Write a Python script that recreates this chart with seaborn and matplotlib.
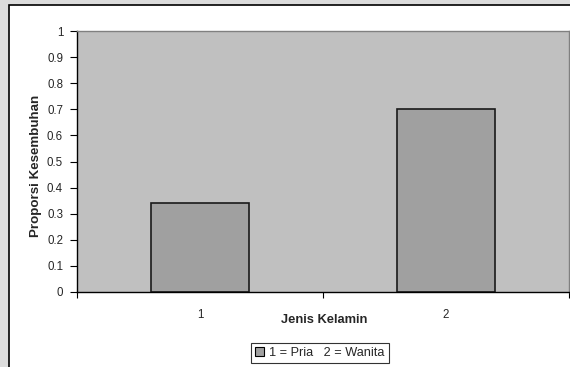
import matplotlib
matplotlib.use("Agg")
import matplotlib.pyplot as plt
from matplotlib.patches import Rectangle, Patch
import seaborn as sns
import pandas as pd

# Recovery proportion by sex (1 = male, 2 = female)
categories = ["1", "2"]
proportions = [0.34, 0.70]
y_ticks = [0, 0.1, 0.2, 0.3, 0.4, 0.5, 0.6, 0.7, 0.8, 0.9, 1]
y_tick_labels = ["0", "0.1", "0.2", "0.3", "0.4", "0.5", "0.6", "0.7", "0.8", "0.9", "1"]
legend_text = "1 = Pria   2 = Wanita"

df = pd.DataFrame({"Jenis Kelamin": categories, "Proporsi": proportions})

sns.set_style("white")
plt.rcParams["font.family"] = ["Liberation Sans", "DejaVu Sans"]

W, H = 570, 367
fig = plt.figure(figsize=(W / 100, H / 100), dpi=100)
fig.patch.set_facecolor("#dcdcdc")

# white chart area with black frame
fig.patches.append(Rectangle((9 / W, -0.1), 1.2, (H - 5) / H + 0.1,
                             transform=fig.transFigure, facecolor="white",
                             edgecolor="black", linewidth=1.2, zorder=-5))

ax = fig.add_axes([77 / W, (H - 292) / H, (569 - 77) / W, (292 - 31) / H])
ax.set_zorder(1)
ax.set_facecolor("#c0c0c0")

sns.barplot(data=df, x="Jenis Kelamin", y="Proporsi", ax=ax, color="#a0a0a0",
            width=0.4, edgecolor="#1a1a1a", linewidth=1.2, saturation=1)

ax.set_xlim(-0.5, 1.5)
ax.set_ylim(0, 1)
ax.set_yticks(y_ticks)
ax.set_yticklabels(y_tick_labels, fontsize=8.3)
ax.tick_params(axis="y", direction="out", length=5, width=0.8, color="black",
               pad=5, left=True)

# category labels without ticks, ticks on category boundaries
ax.set_xticks([0, 1])
ax.set_xticklabels(categories, fontsize=8.3)
ax.tick_params(axis="x", which="major", length=0, pad=12)
ax.set_xticks([-0.5, 0.5, 1.5], minor=True)
ax.tick_params(axis="x", which="minor", direction="out", length=4, width=0.8,
               color="black", bottom=True)

ax.set_xlabel("Jenis Kelamin", fontsize=9.3, fontweight="bold")
ax.xaxis.set_label_coords(0.502, -0.083)
ax.set_ylabel("Proporsi Kesembuhan", fontsize=9.6, fontweight="bold")
ax.yaxis.set_label_coords(-0.071, 0.483)

for side in ["left", "bottom"]:
    ax.spines[side].set_color("black")
    ax.spines[side].set_linewidth(1.0)
for side in ["top", "right"]:
    ax.spines[side].set_color("#808080")
    ax.spines[side].set_linewidth(1.0)
ax.spines["right"].set_visible(True)
ax.spines["top"].set_visible(True)

handle = Patch(facecolor="#a0a0a0", edgecolor="black", linewidth=0.8)
leg = fig.legend([handle], [legend_text], loc="center",
                 bbox_to_anchor=(320 / W, (H - 353) / H), fontsize=9.2,
                 frameon=True, fancybox=False, handlelength=0.7, handleheight=0.7,
                 handletextpad=0.4, borderpad=0.3, borderaxespad=0)
leg.get_frame().set_edgecolor("black")
leg.get_frame().set_linewidth(0.8)

fig.savefig("out.png", dpi=100, facecolor=fig.get_facecolor())
